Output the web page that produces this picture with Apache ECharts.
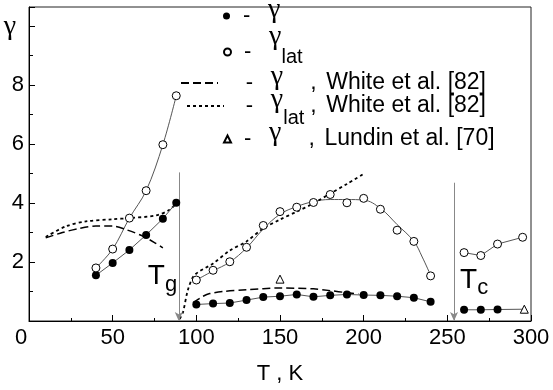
<!DOCTYPE html>
<html>
<head>
<meta charset="utf-8">
<script src="https://cdn.jsdelivr.net/npm/echarts@6/dist/echarts.min.js"></script>
<style>
  html, body { margin: 0; padding: 0; background: #fff; }
  #chart { width: 553px; height: 390px; }
</style>
</head>
<body>
<div id="chart"></div>
<script>
/* ── Data ─────────────────────────────────────────── */
// γ, filled circles, three temperature ranges
const gT1 = [40, 50, 60, 70, 80, 88];
const gV1 = [1.55, 1.97, 2.41, 2.92, 3.47, 4.01];
const gT2 = [100, 110, 120, 130, 140, 150, 160, 170, 180, 190, 200, 210, 220, 230, 240];
const gV2 = [0.56, 0.59, 0.61, 0.71, 0.81, 0.84, 0.90, 0.82, 0.87, 0.90, 0.88, 0.87, 0.84, 0.79, 0.65];
const gT3 = [260, 270, 280];
const gV3 = [0.38, 0.38, 0.39];

// γ_lat, open circles
const glT1 = [40, 50, 60, 70, 80, 88];
const glV1 = [1.80, 2.44, 3.49, 4.42, 5.98, 7.64];
const glT2 = [100, 110, 120, 130, 140, 150, 160, 170, 180, 190, 200, 210, 220, 230, 240];
const glV2 = [1.39, 1.72, 2.01, 2.50, 3.24, 3.71, 3.86, 4.02, 4.29, 4.01, 4.16, 3.79, 3.08, 2.70, 1.53];
const glT3 = [260, 270, 280, 295];
const glV3 = [2.32, 2.22, 2.61, 2.84];

// thin fitted curve drawn through the 100–240 K open circles
const fitT = [100, 110, 120, 130, 140, 150, 160, 170, 180, 190, 200, 210, 220, 230, 235, 240];
const fitV = [1.39, 1.70, 2.00, 2.48, 3.12, 3.62, 3.88, 4.05, 4.12, 4.12, 4.10, 3.82, 3.27, 2.70, 2.17, 1.55];

// γ, White et al. [82] (dashed)
const wgT1 = [10, 20, 30, 40, 50, 58, 68, 75, 80];
const wgV1 = [2.82, 3.00, 3.14, 3.22, 3.22, 3.10, 2.88, 2.66, 2.48];
const wgT2 = [98, 101, 104, 108, 116, 130, 150, 170, 180, 190, 197];
const wgV2 = [0.62, 0.73, 0.84, 0.93, 1.00, 1.06, 1.12, 1.09, 1.03, 0.96, 0.92];

// γ_lat, White et al. [82] (dotted)
const wlT1 = [10, 22, 34, 50, 60, 76, 84, 88];
const wlV1 = [2.85, 3.21, 3.38, 3.45, 3.49, 3.58, 3.77, 4.00];
const wlT2 = [90, 92, 95, 99, 110, 120, 130, 140, 150, 160, 170, 180, 190, 200];
const wlV2 = [0.07, 0.29, 1.06, 1.56, 1.95, 2.39, 2.70, 3.14, 3.44, 3.71, 3.99, 4.32, 4.65, 4.99];

// γ, Lundin et al. [70] (open triangles)
const luT = [150, 296];
const luV = [1.42, 0.40];

// transition temperatures (arrows) and arrow tops
const Tg = 89.5, TgTop = 5.04;
const Tc = 254, TcTop = 4.69;

const xTicks = [0, 50, 100, 150, 200, 250, 300];
const yLabels = [2, 4, 6, 8];

/* ── Helpers ─────────────────────────────────────── */
const pairs = (xs, ys) => xs.map((x, i) => [x, ys[i]]);
const SANS = "'Liberation Sans', Arial, sans-serif";
const SERIF = "'Liberation Serif', 'DejaVu Serif', serif";
const CURVE = "#555";

const filled = (data) => ({
  name: "g", type: "line", data,
  symbol: "circle", symbolSize: 8,
  itemStyle: { color: "#000" },
  lineStyle: { color: CURVE, width: 1 },
  z: 5,
});
const thin = (data, smooth) => ({
  name: "fit", type: "line", data, smooth,
  symbol: "none", lineStyle: { color: CURVE, width: 1 }, z: 3,
});
const white = (name, data, type, width) => ({
  name, type: "line", data, smooth: 0.3,
  symbol: "none", itemStyle: { color: "#000" },
  lineStyle: { color: "#000", width, type }, z: 4,
});

/* ── Legend rows ─────────────────────────────────── */
const rich = {
  p: { width: 0, fontSize: 10, lineHeight: 24 },
  d: { width: 25, fontSize: 22, fontFamily: SANS, lineHeight: 24 },
  g: { width: 12.5, fontSize: 28, fontFamily: SERIF, lineHeight: 24, padding: [0, 0, 12, 0] },
  g2: { width: 12.5, fontSize: 28, fontFamily: SERIF, lineHeight: 24, padding: [0, 0, 30, 0] },
  s: { width: 27, fontSize: 20, fontFamily: SANS, lineHeight: 20, padding: [24, 0, 0, 0] },
  s2: { width: 27, fontSize: 20, fontFamily: SANS, lineHeight: 20, padding: [10, 0, 0, 0] },
  b: { width: 27, fontSize: 20, lineHeight: 20 },
  c: { width: 16, fontSize: 23, fontFamily: SANS, lineHeight: 24 },
  t: { fontSize: 23, fontFamily: SANS, lineHeight: 24 },
};
function row(name, icon, left, top, w, h, pad, text, hideSymbol) {
  const r = {
    data: [icon ? { name, icon } : name],
    left, top, padding: 0,
    itemWidth: w, itemHeight: h,
    selectedMode: false,
    formatter: () => text,
    textStyle: { color: "#000", rich: Object.assign({}, rich, { p: Object.assign({}, rich.p, { width: pad }) }) },
  };
  if (hideSymbol) r.itemStyle = { color: "rgba(0,0,0,0)", borderColor: "rgba(0,0,0,0)", borderWidth: 0 };
  return r;
}

/* ── Chart ───────────────────────────────────────── */
const chart = echarts.init(document.getElementById("chart"));

const option = {
  animation: false,
  backgroundColor: "#fff",
  grid: { left: 29, right: 22, top: 7, bottom: 61, show: true, borderColor: "#222", borderWidth: 1 },
  legend: [
    row("g", "circle", 223, -4, 7, 7, 8, "{p| }{d|-}{g|γ}"),
    row("glat", null, 223, 23, 7, 7, 8, "{p| }{d|-}{g2|γ}{s2|lat}"),
    row("gW", null, 180, 63, 37, 14, 22.7, "{p| }{d|-}{g|γ}{b| }{c|,}{t|White et al. [82]}", true),
    row("glatW", null, 186, 84, 37, 14, 16.7, "{p| }{d|-}{g|γ}{s|lat}{c|,}{t|White et al. [82]}", true),
    row("gL", null, 223, 119, 7, 7, 8, "{p| }{d|-}{g|γ}{b| }{c|,}{t|Lundin et al. [70]}"),
  ],
  xAxis: {
    type: "value", min: xTicks[0], max: xTicks[xTicks.length - 1], interval: 50,
    name: "T , K", nameLocation: "middle", nameGap: 42,
    nameTextStyle: { fontSize: 22, fontFamily: SANS, color: "#000" },
    axisLine: { lineStyle: { color: "#000", width: 1 } },
    axisTick: { inside: true, length: 6, lineStyle: { color: "#000" } },
    minorTick: { show: true, splitNumber: 2, length: 3, lineStyle: { color: "#000" } },
    splitLine: { show: false },
    axisLabel: {
      fontSize: 22, fontFamily: SANS, color: "#000", margin: 6,
      formatter: (v) => (v === 0 ? "{z|0}" : xTicks.includes(v) ? String(v) : ""),
      rich: { z: { fontSize: 22, fontFamily: SANS, padding: [0, 16, 0, 0] } },
    },
  },
  yAxis: {
    type: "value", min: 0, max: 10.65, interval: 2,
    axisLine: { show: true, lineStyle: { color: "#000", width: 1 } },
    axisTick: { show: true, inside: true, length: 6, lineStyle: { color: "#000" } },
    minorTick: { show: true, splitNumber: 2, length: 4, lineStyle: { color: "#000" } },
    splitLine: { show: false },
    axisLabel: {
      fontSize: 22, fontFamily: SANS, color: "#000", margin: 5,
      formatter: (v) => (v === 10 ? "{g|γ}" : yLabels.includes(v) ? String(v) : ""),
      rich: { g: { fontSize: 28, fontFamily: SERIF, padding: [0, 8, 0, 0] } },
    },
  },
  series: [
    // γ filled
    filled(pairs(gT1, gV1)),
    filled(pairs(gT2, gV2)),
    filled(pairs(gT3, gV3).concat([{ value: [luT[1], luV[1]], symbol: "none" }])),
    // γ_lat curves + markers
    thin(pairs(glT1, glV1), 0.35),
    thin(pairs(fitT, fitV), 0.4),
    thin(pairs(glT3, glV3), false),
    {
      name: "glat", type: "scatter",
      data: pairs(glT1, glV1).concat(pairs(glT2, glV2), pairs(glT3, glV3)),
      symbol: "circle", symbolSize: 8,
      itemStyle: { color: "#fff", borderColor: "#000", borderWidth: 1, opacity: 1 },
      z: 6,
    },
    // White et al.
    white("gW", pairs(wgT1, wgV1), [8, 4], 1.5),
    white("gW", pairs(wgT2, wgV2), [8, 4], 1.5),
    white("glatW", pairs(wlT1, wlV1), [3, 3], 1.8),
    white("glatW", pairs(wlT2, wlV2), [3, 3], 1.8),
    // Lundin et al.
    {
      name: "gL", type: "scatter", data: pairs(luT, luV),
      symbol: "triangle", symbolSize: 8,
      itemStyle: { color: "#fff", borderColor: "#000", borderWidth: 1, opacity: 1 },
      z: 6,
    },
    // Tg / Tc arrows and labels
    {
      name: "marks", type: "line", data: [], silent: true,
      markLine: {
        silent: true, animation: false,
        label: { show: false },
        lineStyle: { color: "#888", width: 1, type: "solid" },
        emphasis: { disabled: true },
        data: [
          [{ coord: [Tg, TgTop], symbol: "none" }, { coord: [Tg, 0], symbol: "arrow", symbolSize: [6, 9] }],
          [{ coord: [Tc, TcTop], symbol: "none" }, { coord: [Tc, 0], symbol: "arrow", symbolSize: [6, 9] }],
        ],
      },
      markPoint: {
        silent: true, symbol: "circle", symbolSize: 1,
        itemStyle: { color: "rgba(0,0,0,0)" },
        label: {
          show: true, position: "inside", color: "#000",
          rich: {
            T: { fontSize: 28, fontFamily: SANS, lineHeight: 28 },
            s: { fontSize: 22, fontFamily: SANS, lineHeight: 22, padding: [16, 0, 0, 0] },
          },
        },
        data: [
          { coord: [79.8, 1.51], label: { formatter: "{T|T}{s|g}" } },
          { coord: [266, 1.38], label: { formatter: "{T|T}{s|c}" } },
        ],
      },
    },
  ],
};

chart.setOption(option);
</script>
</body>
</html>
